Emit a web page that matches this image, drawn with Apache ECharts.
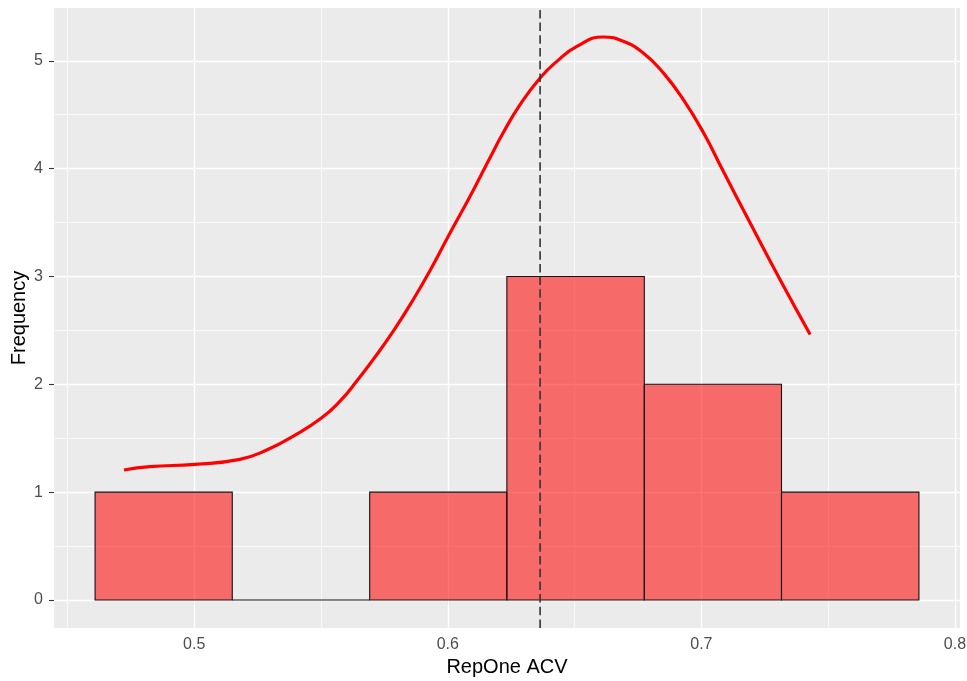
<!DOCTYPE html>
<html>
<head>
<meta charset="utf-8">
<script src="https://cdn.jsdelivr.net/npm/echarts@6/dist/echarts.min.js"></script>
<style>
  html, body { margin: 0; padding: 0; background: #fff; }
  #chart { width: 967px; height: 681px; }
</style>
</head>
<body>
<div id="chart"></div>
<script>
// histogram bins (edges) and counts
const binEdges = [0.4609, 0.5150, 0.5692, 0.6233, 0.6775, 0.7316, 0.7858];
const counts = [1, 0, 1, 3, 2, 1];

// density curve
const densX = [0.4723, 0.4825, 0.5003, 0.5180, 0.5286, 0.5391, 0.5503, 0.5575, 0.5641, 0.5706,
  0.5785, 0.5864, 0.5943, 0.6002, 0.6088, 0.6167, 0.6219, 0.6285, 0.6364, 0.6430,
  0.6509, 0.6613, 0.6692, 0.6771, 0.6850, 0.6929, 0.7008, 0.7087, 0.7192, 0.7310, 0.7429];
const densY = [1.205, 1.236, 1.258, 1.304, 1.390, 1.520, 1.690, 1.844, 2.030, 2.231,
  2.493, 2.787, 3.111, 3.374, 3.744, 4.103, 4.335, 4.594, 4.841, 4.995,
  5.134, 5.221, 5.181, 5.073, 4.888, 4.640, 4.335, 3.973, 3.498, 2.972, 2.462];

// mean line
const meanValue = 0.6364;

// ticks and grid
const xTicks = [0.5, 0.6, 0.7, 0.8];
const xMinor = [0.45, 0.55, 0.65, 0.75];
const yTicks = [0, 1, 2, 3, 4, 5];
const yMinor = [0.5, 1.5, 2.5, 3.5, 4.5];
const xRange = [0.4447, 0.8020];
const yRange = [-0.26, 5.49];

const chart = echarts.init(document.getElementById('chart'));
const font = "'Liberation Sans', Arial, sans-serif";

// white grid lines like ggplot
const gridLines = [].concat(
  xMinor.map(v => ({ xAxis: v, lineStyle: { color: '#fff', width: 0.7, type: 'solid' } })),
  yMinor.map(v => ({ yAxis: v, lineStyle: { color: '#fff', width: 0.7, type: 'solid' } })),
  xTicks.map(v => ({ xAxis: v, lineStyle: { color: '#fff', width: 1.4, type: 'solid' } })),
  yTicks.map(v => ({ yAxis: v, lineStyle: { color: '#fff', width: 1.4, type: 'solid' } }))
);

const option = {
  animation: false,
  grid: {
    left: 54, right: 7, top: 8, bottom: 53,
    outerBoundsMode: 'none',
    show: true, backgroundColor: '#EBEBEB', borderWidth: 0
  },
  xAxis: {
    type: 'value',
    min: xRange[0], max: xRange[1],
    axisLine: { show: false },
    axisTick: { show: true, customValues: xTicks, length: 5, lineStyle: { color: '#333', width: 1.1 } },
    axisLabel: { customValues: xTicks, color: '#4D4D4D', fontSize: 16, margin: 9, fontFamily: font },
    splitLine: { show: false },
    name: 'RepOne ACV',
    nameLocation: 'middle',
    nameGap: 28,
    nameTextStyle: { color: '#000', fontSize: 20, fontFamily: font }
  },
  yAxis: {
    type: 'value',
    min: yRange[0], max: yRange[1],
    axisLine: { show: false },
    axisTick: { show: true, customValues: yTicks, length: 5, lineStyle: { color: '#333', width: 1.1 } },
    axisLabel: { customValues: yTicks, color: '#4D4D4D', fontSize: 16, margin: 11, fontFamily: font },
    splitLine: { show: false },
    name: 'Frequency',
    nameLocation: 'middle',
    nameRotate: 90,
    nameGap: 25,
    nameMoveOverlap: false,
    nameTextStyle: { color: '#000', fontSize: 20, fontFamily: font }
  },
  series: [
    {
      type: 'line', data: [], z: 1, silent: true,
      markLine: {
        z: 1, silent: true, symbol: ['none', 'none'], label: { show: false },
        emphasis: { disabled: true },
        data: gridLines
      }
    },
    {
      type: 'custom', z: 3, silent: true,
      data: counts.map((c, i) => [binEdges[i], binEdges[i + 1], c]),
      encode: { x: [0, 1], y: 2 },
      renderItem: function (params, api) {
        const p0 = api.coord([api.value(0), 0]);
        const p1 = api.coord([api.value(1), api.value(2)]);
        return {
          type: 'rect',
          shape: { x: p0[0], y: p1[1], width: p1[0] - p0[0], height: p0[1] - p1[1] },
          style: { fill: 'rgba(255,0,0,0.55)', stroke: '#111', lineWidth: 1.1 }
        };
      }
    },
    {
      type: 'line', z: 4, silent: true,
      data: densX.map((x, i) => [x, densY[i]]),
      smooth: 0.5,
      showSymbol: false,
      lineStyle: { color: '#FF0000', width: 3.2 }
    },
    {
      // dashed mean line across the whole panel
      type: 'line', z: 5, silent: true,
      data: [[meanValue, yRange[0]], [meanValue, yRange[1]]],
      showSymbol: false,
      lineStyle: { color: '#333', width: 1.6, type: [8.5, 4.2] }
    }
  ]
};

option && chart.setOption(option);
</script>
</body>
</html>
